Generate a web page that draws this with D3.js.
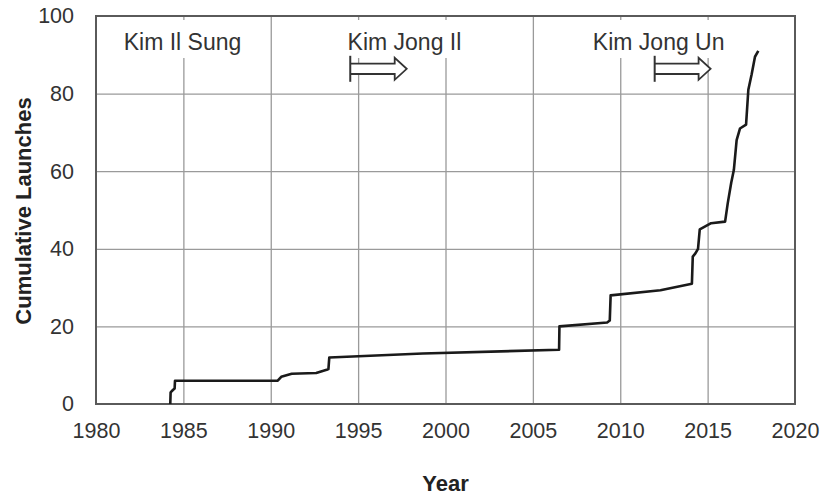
<!DOCTYPE html>
<html>
<head>
<meta charset="utf-8">
<script src="https://cdn.jsdelivr.net/npm/d3@7"></script>
<style>
  html, body { margin: 0; padding: 0; background: #fff; }
  svg { display: block; font-family: "Liberation Sans", Arial, sans-serif; }
</style>
</head>
<body>
<svg id="chart" width="824" height="495"></svg>
<script>
// ---- data ----
const launchYear = [1984.25, 1984.27, 1984.4, 1984.5, 1984.52, 1990.4, 1990.6, 1991.2, 1992.6, 1993.2, 1993.3, 1993.35,
  1998.7, 2006.5, 2006.52, 2009.25, 2009.4, 2009.45, 2012.3, 2014.1, 2014.15, 2014.3, 2014.45, 2014.55,
  2015.2, 2016.0, 2016.15, 2016.35, 2016.5, 2016.66, 2016.85, 2017.2, 2017.33, 2017.52, 2017.71, 2017.9];
const cumulativeLaunches = [0, 3, 3.6, 4, 6, 6, 7, 7.8, 8, 8.8, 9, 12,
  13, 14, 20, 21, 21.5, 28, 29.3, 31, 38, 38.8, 40, 45,
  46.6, 47, 51.7, 57, 60.3, 68, 71, 72, 81, 85, 89.5, 91];
const xTicks = [1980, 1985, 1990, 1995, 2000, 2005, 2010, 2015, 2020];
const yTicks = [0, 20, 40, 60, 80, 100];
const leaderNames = ["Kim Il Sung", "Kim Jong Il", "Kim Jong Un"];
const leaderLabelYear = [1984.95, 1997.65, 2012.2];
const arrowStartYear = [1994.55, 2011.97];
const arrowEndYear = [1997.78, 2015.17];

// ---- layout ----
const svg = d3.select("#chart");
const pL = 96, pR = 795, pT = 16, pB = 404;
const x = d3.scaleLinear().domain([1980, 2020]).range([pL, pR]);
const y = d3.scaleLinear().domain([0, 100]).range([pB, pT]);
const txt = "#333";

// gridlines
svg.append("g").attr("transform", `translate(0,${pB})`)
  .call(d3.axisBottom(x).tickValues(xTicks.slice(1, -1)).tickSize(-(pB - pT)).tickFormat(""))
  .call(g => g.select(".domain").remove())
  .call(g => g.selectAll("line").attr("stroke", "#9a9a9a").attr("stroke-width", 1.3));
svg.append("g").attr("transform", `translate(${pL},0)`)
  .call(d3.axisLeft(y).tickValues(yTicks.slice(1, -1)).tickSize(-(pR - pL)).tickFormat(""))
  .call(g => g.select(".domain").remove())
  .call(g => g.selectAll("line").attr("stroke", "#9a9a9a").attr("stroke-width", 1.3));

// leader labels with white boxes (interrupt gridlines)
const lab = svg.append("g");
leaderNames.forEach((n, i) => {
  const t = lab.append("text").attr("x", x(leaderLabelYear[i])).attr("y", 50)
    .attr("text-anchor", "middle").attr("font-size", 23).attr("fill", txt).text(n);
  const bb = t.node().getBBox();
  lab.insert("rect", "text").attr("x", bb.x - 4).attr("y", 20).attr("width", bb.width + 8).attr("height", 38).attr("fill", "#fff");
});

// arrows
arrowStartYear.forEach((s, i) => {
  const x0 = x(s), tip = x(arrowEndYear[i]), hb = tip - 12, cy = 68.8;
  svg.append("path")
    .attr("d", `M${x0},${cy - 5.2}L${hb},${cy - 5.2}L${hb},${cy - 11}L${tip},${cy}L${hb},${cy + 11}L${hb},${cy + 5.2}L${x0},${cy + 5.2}`)
    .attr("fill", "#fff").attr("stroke", "#333").attr("stroke-width", 1.8).attr("stroke-linejoin", "miter");
  svg.append("line").attr("x1", x0).attr("x2", x0).attr("y1", cy - 13).attr("y2", cy + 13)
    .attr("stroke", "#333").attr("stroke-width", 2);
});

// frame
svg.append("rect").attr("x", pL).attr("y", pT).attr("width", pR - pL).attr("height", pB - pT)
  .attr("fill", "none").attr("stroke", "#5a5a5a").attr("stroke-width", 2);

// axes labels
svg.append("g").attr("transform", `translate(0,${pB})`)
  .call(d3.axisBottom(x).tickValues(xTicks).tickSize(0).tickPadding(19).tickFormat(d3.format("d")))
  .call(g => g.select(".domain").remove())
  .call(g => g.selectAll("text").attr("font-size", 21.5).attr("fill", txt).attr("font-family", "Liberation Sans, Arial, sans-serif"));
svg.append("g").attr("transform", `translate(${pL},0)`)
  .call(d3.axisLeft(y).tickValues(yTicks).tickSize(0).tickPadding(22).tickFormat(d3.format("d")))
  .call(g => g.select(".domain").remove())
  .call(g => g.selectAll("text").attr("font-size", 21.5).attr("fill", txt).attr("font-family", "Liberation Sans, Arial, sans-serif"));

// data line
const pts = launchYear.map((d, i) => [d, cumulativeLaunches[i]]);
svg.append("path").datum(pts)
  .attr("d", d3.line().x(d => x(d[0])).y(d => y(d[1])))
  .attr("fill", "none").attr("stroke", "#1a1a1a").attr("stroke-width", 2.6).attr("stroke-linejoin", "round");

// titles
svg.append("text").attr("x", (pL + pR) / 2).attr("y", 491).attr("text-anchor", "middle")
  .attr("font-size", 22).attr("font-weight", "bold").attr("fill", "#222").text("Year");
svg.append("text").attr("transform", `translate(31,${(pT + pB) / 2 + 1}) rotate(-90)`)
  .attr("text-anchor", "middle").attr("font-size", 22).attr("font-weight", "bold").attr("fill", "#222")
  .text("Cumulative Launches");
</script>
</body>
</html>
